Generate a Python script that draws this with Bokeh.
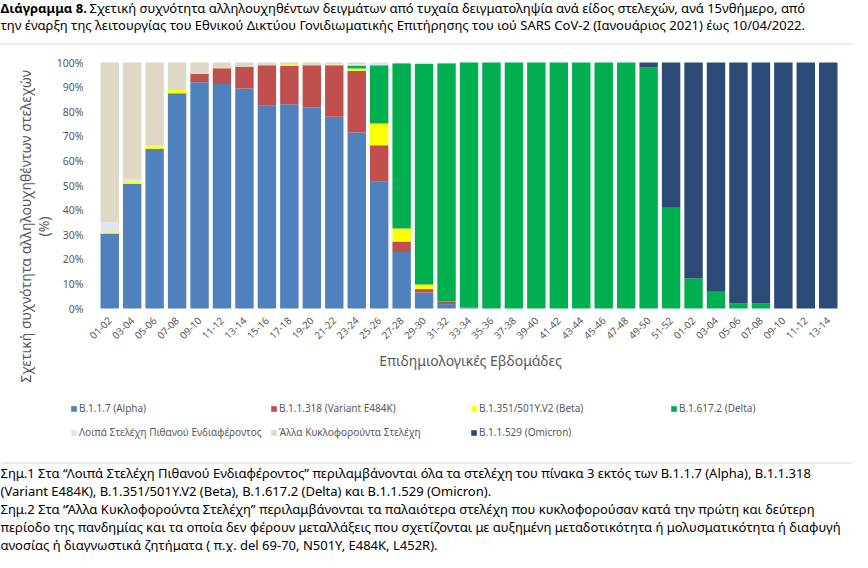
import math
from bokeh.plotting import figure
from bokeh.models import (ColumnDataSource, Range1d, FixedTicker, PrintfTickFormatter,
                          Label, Legend, LegendItem, Span)
from bokeh.embed import file_html
from bokeh.resources import INLINE

# ---------------- data ----------------
weeks = ["01-02", "03-04", "05-06", "07-08", "09-10", "11-12", "13-14", "15-16",
         "17-18", "19-20", "21-22", "23-24", "25-26", "27-28", "29-30", "31-32",
         "33-34", "35-36", "37-38", "39-40", "41-42", "43-44", "45-46", "47-48",
         "49-50", "51-52",
         "01-02", "03-04", "05-06", "07-08", "09-10", "11-12", "13-14"]

alpha = [30.5, 50.7, 64.8, 87.5, 92.0, 91.3, 89.4, 82.4, 83.0, 81.7, 77.9, 71.5,
         51.5, 23.0, 6.5, 1.8, 0.3, 0, 0, 0, 0, 0, 0, 0, 0, 0, 0, 0, 0, 0, 0, 0, 0]
e484k = [0, 0, 0, 0, 3.3, 6.4, 8.8, 16.5, 15.6, 17.2, 21.0, 25.1,
         14.9, 4.2, 1.4, 0.9, 0, 0, 0, 0, 0, 0, 0, 0, 0, 0, 0, 0, 0, 0, 0, 0, 0]
beta = [0.5, 1.0, 1.2, 1.3, 0, 0, 0, 0, 0.7, 0, 0.3, 1.0,
        8.8, 5.3, 1.9, 0, 0, 0, 0, 0, 0, 0, 0, 0, 0, 0, 0, 0, 0, 0, 0, 0, 0]
delta = [0, 0, 0, 0, 0, 0, 0, 0, 0, 0, 0, 1.2,
         23.7, 67.2, 89.6, 97.0, 99.7, 100, 100, 100, 100, 100, 100, 100,
         98.0, 41.0, 12.2, 6.8, 2.2, 2.2, 0, 0, 0]
other_interest = [4.0, 0.8, 0.5, 0, 0, 0, 0, 0, 0, 0, 0, 0.5,
                  1.1, 0.3, 0.6, 0.3, 0, 0, 0, 0, 0, 0, 0, 0, 0, 0, 0, 0, 0, 0, 0, 0, 0]
other_circulating = [65.0, 47.5, 33.5, 11.2, 4.7, 2.3, 1.8, 1.1, 0.7, 1.1, 0.8, 0.7,
                     0, 0, 0, 0, 0, 0, 0, 0, 0, 0, 0, 0, 0, 0, 0, 0, 0, 0, 0, 0, 0]
omicron = [0, 0, 0, 0, 0, 0, 0, 0, 0, 0, 0, 0, 0, 0, 0, 0, 0, 0, 0, 0, 0, 0, 0, 0,
           2.0, 59.0, 87.8, 93.2, 97.8, 97.8, 100, 100, 100]

series_keys = ["alpha", "e484k", "beta", "delta", "other_interest",
               "other_circulating", "omicron"]
series_names = ["B.1.1.7 (Alpha)", "B.1.1.318 (Variant E484K)",
                "B.1.351/501Y.V2 (Beta)", "B.1.617.2 (Delta)",
                "Λοιπά Στελέχη Πιθανού Ενδιαφέροντος",
                "Άλλα Κυκλοφορούντα Στελέχη", "B.1.1.529 (Omicron)"]
series_colors = ["#4F81BD", "#C0504D", "#FFFF00", "#00B050", "#DCE6F2",
                 "#DDD9C4", "#2B4A76"]

y_ticks = [0, 10, 20, 30, 40, 50, 60, 70, 80, 90, 100]

title_bold = "Διάγραμμα 8."
title_line1 = ("Σχετική συχνότητα αλληλουχηθέντων δειγμάτων από τυχαία δειγματοληψία "
               "ανά είδος στελεχών, ανά 15νθήμερο, από")
title_line2 = ("την έναρξη της λειτουργίας του Εθνικού Δικτύου Γονιδιωματικής Επιτήρησης "
               "του ιού SARS CoV-2 (Ιανουάριος 2021) έως 10/04/2022.")
y_label1 = "Σχετική συχνότητα αλληλουχηθέντων στελεχών"
y_label2 = "(%)"
x_label = "Επιδημιολογικές Εβδομάδες"
notes = [
    "Σημ.1 Στα “Λοιπά Στελέχη Πιθανού Ενδιαφέροντος” περιλαμβάνονται όλα τα στελέχη "
    "του πίνακα 3 εκτός των Β.1.1.7 (Alpha), B.1.1.318",
    "(Variant E484K), B.1.351/501Y.V2 (Beta), B.1.617.2 (Delta) και B.1.1.529 (Omicron).",
    "Σημ.2 Στα “Άλλα Κυκλοφορούντα Στελέχη” περιλαμβάνονται τα παλαιότερα στελέχη "
    "που κυκλοφορούσαν κατά την πρώτη και δεύτερη",
    "περίοδο της πανδημίας και τα οποία δεν φέρουν μεταλλάξεις που σχετίζονται με "
    "αυξημένη μεταδοτικότητα ή μολυσματικότητα ή διαφυγή",
    "ανοσίας ή διαγνωστικά ζητήματα ( π.χ. del 69-70, N501Y, E484K, L452R).",
]

# ---------------- layout (pixels on the canvas) ----------------
FONT = "Noto Sans"
GREY = "#595959"
W, H = 852, 552
PLOT_L, PLOT_R = 98, 839      # x pixels of first/last category edges
PLOT_T, PLOT_B = 62, 308      # y pixels of 100% / 0%
BOX_T, BOX_B = 44, 463        # y pixels of the chart box edges

n = len(weeks)
px_per_x = (PLOT_R - PLOT_L) / n
px_per_y = (PLOT_B - PLOT_T) / 100.0
x_start = -0.5 - PLOT_L / px_per_x
x_end = n - 0.5 + (W - PLOT_R) / px_per_x
y_end = 100 + PLOT_T / px_per_y
y_start = -(H - PLOT_B) / px_per_y


def sy(cy):
    return H - cy


source = ColumnDataSource(dict(
    x=list(range(n)),
    alpha=alpha, e484k=e484k, beta=beta, delta=delta,
    other_interest=other_interest, other_circulating=other_circulating,
    omicron=omicron,
))

p = figure(width=W, height=H, output_backend="svg", toolbar_location=None,
           x_range=Range1d(x_start, x_end), y_range=Range1d(y_start, y_end),
           min_border_left=0, min_border_right=0, min_border_top=0,
           min_border_bottom=0)
p.outline_line_color = None
p.xgrid.visible = False
p.ygrid.visible = False
p.background_fill_color = "white"
p.border_fill_color = "white"

# chart box edges (top and bottom)
for edge in (BOX_T, BOX_B):
    p.add_layout(Span(location=sy(edge) + 0.5, location_units="screen",
                      dimension="width", line_color="#D9D9D9", line_width=1))

renderers = p.vbar_stack(series_keys, x="x", width=0.82, color=series_colors,
                         line_color=None, source=source)

# axes, fixed inside the frame
p.xaxis.fixed_location = 0
p.xaxis.ticker = FixedTicker(ticks=list(range(n)))
p.xaxis.major_label_overrides = {i: w for i, w in enumerate(weeks)}
p.xaxis.major_label_orientation = math.pi / 4
p.xaxis.major_label_text_font = FONT
p.xaxis.major_label_text_font_size = "10px"
p.xaxis.major_label_text_color = GREY
p.xaxis.major_label_standoff = 4
p.xaxis.axis_line_color = None
p.xaxis.major_tick_line_color = None
p.xaxis.minor_tick_line_color = None

p.yaxis.fixed_location = -0.5
p.yaxis.ticker = FixedTicker(ticks=y_ticks)
p.yaxis.formatter = PrintfTickFormatter(format="%d%%")
p.yaxis.major_label_text_font = FONT
p.yaxis.major_label_text_font_size = "10.5px"
p.yaxis.major_label_text_color = GREY
p.yaxis.major_label_standoff = 9
p.yaxis.axis_line_color = None
p.yaxis.major_tick_line_color = None
p.yaxis.minor_tick_line_color = None

# legend
items = [LegendItem(label=nm, renderers=[r]) for nm, r in zip(series_names, renderers)]
legend = Legend(items=items, location=(70, H - 398 - 44), orientation="horizontal",
                ncols=4, glyph_width=7, glyph_height=7, label_standoff=2,
                label_width=187, label_height=20, spacing=4, padding=0, margin=0,
                border_line_color=None, background_fill_alpha=0,
                label_text_font=FONT, label_text_font_size="10px",
                label_text_color=GREY)
p.add_layout(legend, "center")


def add_text(text, cx, cy, size, color="black", bold=False, align="left", angle=0.0):
    lab = Label(x=cx, y=sy(cy), x_units="screen", y_units="screen", text=text,
                text_font=FONT, text_font_size=size, text_color=color,
                text_font_style="bold" if bold else "normal", text_align=align,
                text_baseline="middle", angle=angle)
    p.add_layout(lab)


add_text(title_bold, 0, 7, "13px", bold=True)
add_text(title_line1, 89, 7, "13px")
add_text(title_line2, 0, 24, "13px")

add_text(y_label1, 25, 226, "14px", color=GREY, align="center", angle=math.pi / 2)
add_text(y_label2, 43, 226, "14px", color=GREY, align="center", angle=math.pi / 2)
add_text(x_label, 470, 360, "14px", color=GREY, align="center")

for k, line in enumerate(notes):
    add_text(line, 0, 472 + 18 * k, "13px")

open("out.html", "w").write(file_html(p, INLINE))
